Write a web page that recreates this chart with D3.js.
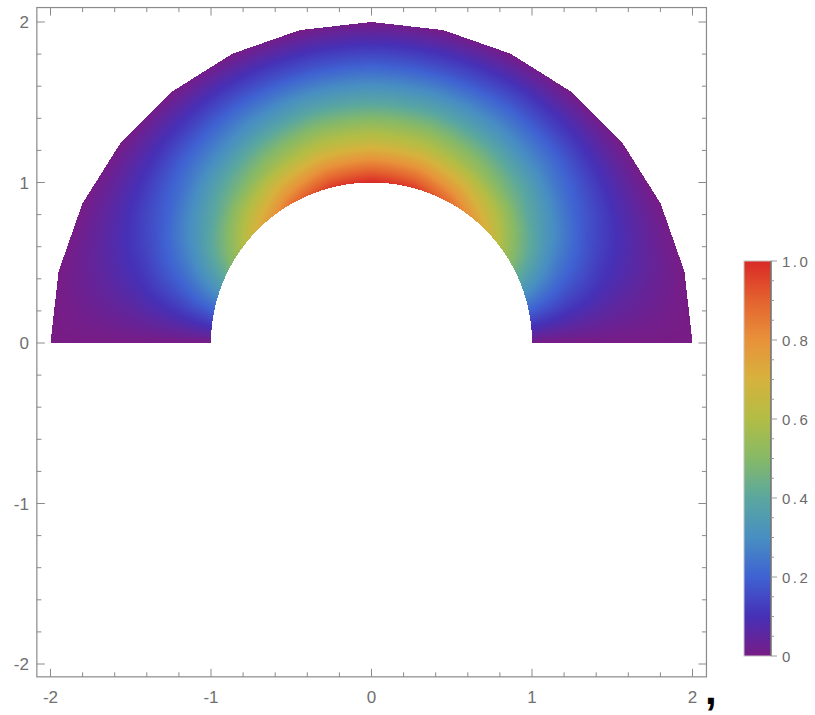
<!DOCTYPE html>
<html>
<head>
<meta charset="utf-8">
<script src="https://cdn.jsdelivr.net/npm/d3@7"></script>
<style>
  body { margin: 0; background: #fff; }
  svg text { font-family: "Liberation Sans", "DejaVu Sans", sans-serif; }
</style>
</head>
<body>
<script>
(function () {
    // field values, on a polar grid (rows = radius)
    var radii = [1, 1.25, 1.5, 1.75, 2];
    var anglesDeg = [0, 15, 30, 45, 60, 75, 90, 105, 120, 135, 150, 165, 180];
    var valuesR100 = [0, 0.26, 0.50, 0.71, 0.87, 0.97, 1.00, 0.97, 0.87, 0.71, 0.50, 0.26, 0];
    var valuesR125 = [0, 0.17, 0.33, 0.46, 0.56, 0.63, 0.65, 0.63, 0.56, 0.46, 0.33, 0.17, 0];
    var valuesR150 = [0, 0.10, 0.19, 0.28, 0.34, 0.38, 0.39, 0.38, 0.34, 0.28, 0.19, 0.10, 0];
    var valuesR175 = [0, 0.05, 0.09, 0.13, 0.16, 0.17, 0.18, 0.17, 0.16, 0.13, 0.09, 0.05, 0];
    var valuesR200 = [0, 0, 0, 0, 0, 0, 0, 0, 0, 0, 0, 0, 0];
    var valueRows = [valuesR100, valuesR125, valuesR150, valuesR175, valuesR200];

    // colour bar
    var colorStops = [0, 0.1, 0.2, 0.3, 0.4, 0.5, 0.6, 0.7, 0.8, 0.9, 1.0];
    var colorValues = ["#781c86", "#4630b6", "#3f62d2", "#488fc2", "#5aa79f", "#86b967",
                       "#b2bd45", "#d6b23d", "#e8923a", "#e4622f", "#d92a27"];
    var barTicks = [0, 0.2, 0.4, 0.6, 0.8, 1.0];
    var barTickLabels = ["0", "0.2", "0.4", "0.6", "0.8", "1.0"];

    var axisTicks = [-2, -1, 0, 1, 2];
    var axisTickLabels = ["-2", "-1", "0", "1", "2"];

    var innerRadius = 1, outerRadius = 2, outerSegments = 14;

    var W = 815, H = 715;

    var x = d3.scaleLinear().domain([-2, 2]).range([50.5, 692.5]);
    var y = d3.scaleLinear().domain([-2, 2]).range([664, 22]);
    var frameX = [-2.085, 2.087], frameY = [-2.08, 2.09];

    var color = d3.scaleLinear().domain(colorStops).range(colorValues).clamp(true);

    var svg = d3.select("body").append("svg")
        .attr("width", W)
        .attr("height", H);

    svg.append("rect").attr("width", W).attr("height", H).attr("fill", "#fff");

    // outer polygon of the mesh
    var outerPoly = d3.range(outerSegments + 1).map(function (i) {
        var a = Math.PI * i / outerSegments;
        return [outerRadius * Math.cos(a), outerRadius * Math.sin(a)];
    });

    function fieldAt(r, th) {
        var ai = th / (Math.PI / 12);
        var i0 = Math.max(0, Math.min(anglesDeg.length - 2, Math.floor(ai)));
        var ta = ai - i0;
        var ri = (r - radii[0]) / (radii[1] - radii[0]);
        var j0 = Math.max(0, Math.min(radii.length - 2, Math.floor(ri)));
        var tr = Math.max(0, Math.min(1, ri - j0));
        var a = valueRows[j0][i0] * (1 - ta) + valueRows[j0][i0 + 1] * ta;
        var b = valueRows[j0 + 1][i0] * (1 - ta) + valueRows[j0 + 1][i0 + 1] * ta;
        return a * (1 - tr) + b * tr;
    }

    // raster the density into a canvas, then place it in the svg
    var canvas = document.createElement("canvas");
    canvas.width = W;
    canvas.height = H;
    var ctx = canvas.getContext("2d");
    var img = ctx.createImageData(W, H);
    var px0 = Math.floor(x(-2)) - 1, px1 = Math.ceil(x(2)) + 1;
    var py0 = Math.floor(y(2)) - 1, py1 = Math.ceil(y(0));
    for (var py = py0; py < py1; py++) {
        for (var px = px0; px <= px1; px++) {
            var dx = x.invert(px + 0.5), dy = y.invert(py + 0.5);
            if (dy < 0) continue;
            var r = Math.sqrt(dx * dx + dy * dy);
            if (r < innerRadius) continue;
            if (!d3.polygonContains(outerPoly, [dx, dy])) continue;
            var th = Math.atan2(dy, dx);
            var c = d3.rgb(color(fieldAt(r, th)));
            var k = (py * W + px) * 4;
            img.data[k] = c.r;
            img.data[k + 1] = c.g;
            img.data[k + 2] = c.b;
            img.data[k + 3] = 255;
        }
    }
    ctx.putImageData(img, 0, 0);
    svg.append("image")
        .attr("x", 0).attr("y", 0)
        .attr("width", W).attr("height", H)
        .attr("href", canvas.toDataURL());

    // frame
    var axisColor = "#8a8a8a";
    var fx0 = x(frameX[0]), fx1 = x(frameX[1]), fy0 = y(frameY[1]), fy1 = y(frameY[0]);
    svg.append("rect")
        .attr("x", fx0).attr("y", fy0)
        .attr("width", fx1 - fx0).attr("height", fy1 - fy0)
        .attr("fill", "none")
        .attr("stroke", axisColor)
        .attr("stroke-width", 1.2);

    var minor = d3.range(-10, 11).map(function (i) { return i / 5; });
    var tickG = svg.append("g").attr("stroke", axisColor).attr("stroke-width", 1);
    minor.forEach(function (v) {
        var len = Math.abs(v - Math.round(v)) < 1e-9 ? 8 : 4.5;
        tickG.append("line").attr("x1", x(v)).attr("x2", x(v)).attr("y1", fy1).attr("y2", fy1 - len);
        tickG.append("line").attr("x1", x(v)).attr("x2", x(v)).attr("y1", fy0).attr("y2", fy0 + len);
        tickG.append("line").attr("y1", y(v)).attr("y2", y(v)).attr("x1", fx0).attr("x2", fx0 + len);
        tickG.append("line").attr("y1", y(v)).attr("y2", y(v)).attr("x1", fx1).attr("x2", fx1 - len);
    });

    var labelColor = "#707070";
    svg.append("g").selectAll("text")
        .data(axisTicks)
        .enter().append("text")
        .attr("x", function (d) { return x(d); })
        .attr("y", fy1 + 26)
        .attr("text-anchor", "middle")
        .attr("font-size", 17)
        .attr("fill", labelColor)
        .text(function (d, i) { return axisTickLabels[i]; });

    svg.append("g").selectAll("text")
        .data(axisTicks)
        .enter().append("text")
        .attr("x", fx0 - 8)
        .attr("y", function (d) { return y(d) + 6; })
        .attr("text-anchor", "end")
        .attr("font-size", 17)
        .attr("fill", labelColor)
        .text(function (d, i) { return axisTickLabels[i]; });

    // legend bar
    var barX = 744, barW = 27;
    var bar = d3.scaleLinear().domain([0, 1]).range([656, 261]);
    var defs = svg.append("defs");
    var grad = defs.append("linearGradient")
        .attr("id", "barGrad")
        .attr("x1", 0).attr("y1", 1).attr("x2", 0).attr("y2", 0);
    grad.selectAll("stop")
        .data(colorStops)
        .enter().append("stop")
        .attr("offset", function (d) { return d; })
        .attr("stop-color", function (d, i) { return colorValues[i]; });

    svg.append("rect")
        .attr("x", barX).attr("y", bar(1))
        .attr("width", barW).attr("height", bar(0) - bar(1))
        .attr("fill", "url(#barGrad)")
        .attr("stroke", "#c4c4c4")
        .attr("stroke-width", 1);
    svg.append("line")
        .attr("x1", barX + barW).attr("x2", barX + barW)
        .attr("y1", bar(1)).attr("y2", bar(0))
        .attr("stroke", "#5a5a5a").attr("stroke-width", 1.2);

    var barMinor = d3.range(0, 21).map(function (i) { return i / 20; });
    svg.append("g").selectAll("line")
        .data(barMinor)
        .enter().append("line")
        .attr("x1", barX + barW)
        .attr("x2", function (d) {
            return barX + barW + (Math.abs(d * 5 - Math.round(d * 5)) < 1e-9 ? 6 : 3);
        })
        .attr("y1", function (d) { return bar(d); })
        .attr("y2", function (d) { return bar(d); })
        .attr("stroke", "#9a9a9a")
        .attr("stroke-width", 1);

    svg.append("g").selectAll("text")
        .data(barTicks)
        .enter().append("text")
        .attr("x", barX + barW + 11)
        .attr("y", function (d) { return bar(d) + 5.5; })
        .attr("font-size", 15)
        .attr("letter-spacing", 2.5)
        .attr("fill", "#6a6a6a")
        .text(function (d, i) { return barTickLabels[i]; });

    // trailing comma from the notebook output
    svg.append("text")
        .attr("x", 705)
        .attr("y", 704)
        .attr("font-size", 42)
        .attr("font-weight", "bold")
        .attr("fill", "#000")
        .text(",");
})();
</script>
</body>
</html>
